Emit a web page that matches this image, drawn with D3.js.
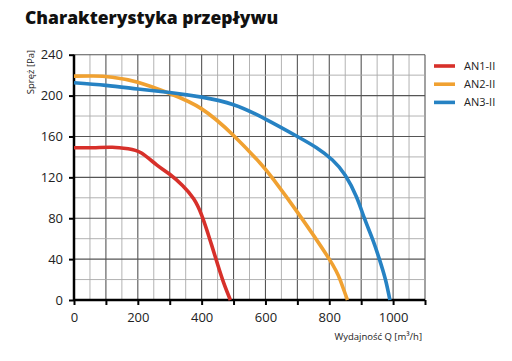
<!DOCTYPE html>
<html><head><meta charset="utf-8">
<script src="https://cdn.jsdelivr.net/npm/d3@7"></script>
<style>
body{margin:0;background:#fff;}
svg{display:block;font-family:"Open Sans",sans-serif;}
</style></head>
<body><svg id="c" width="512" height="361"></svg>
<script>
const title = "Charakterystyka przepływu";
const yTitle = "Spręż [Pa]";
const xTitle = "Wydajność Q [m³/h]";
const seriesNames = ["AN1-II", "AN2-II", "AN3-II"];
const seriesColors = ["#d7302a", "#f0a131", "#2682c3"];
const xTicks = [0, 200, 400, 600, 800, 1000];
const yTicks = [0, 40, 80, 120, 160, 200, 240];
const an1Q = [0, 60, 120, 170, 210, 260, 300, 340, 375, 400, 425, 450, 470, 490];
const an1P = [149, 149, 149.5, 148, 144, 132, 123, 112, 99, 83, 60, 35, 16, 0];
const an2Q = [0, 60, 120, 200, 300, 400, 500, 583, 625, 700, 800, 835, 857];
const an2P = [219, 219.2, 218, 213, 202, 187, 161, 134, 118, 86, 40, 19, 0];
const an3Q = [0, 100, 200, 300, 400, 500, 600, 700, 760, 810, 850, 885, 910, 935, 957, 976, 990];
const an3P = [212.5, 210, 206.5, 203, 198.5, 191, 177, 160, 149, 137, 122, 101, 80, 60, 40, 20, 0];
const seriesQ = [an1Q, an2Q, an3Q];
const seriesP = [an1P, an2P, an3P];

const svg = d3.select("#c");
const x = d3.scaleLinear().domain([0, 1100]).range([74, 425]);
const y = d3.scaleLinear().domain([0, 240]).range([300, 54.7]);

svg.append("text").attr("x", 25).attr("y", 24).attr("font-size", 17.5).attr("font-weight", 800)
  .attr("fill", "#111").text(title);

const g = svg.append("g");
// grid
d3.range(50, 1101, 50).forEach(v => {
  g.append("line").attr("x1", x(v)).attr("x2", x(v)).attr("y1", y(0)).attr("y2", y(240))
    .attr("stroke", v % 100 === 0 ? "#555" : "#aaa").attr("stroke-width", v % 100 === 0 ? 1.1 : 0.9);
});
d3.range(20, 241, 20).forEach(v => {
  g.append("line").attr("x1", x(0)).attr("x2", x(1100)).attr("y1", y(v)).attr("y2", y(v))
    .attr("stroke", v % 40 === 0 ? "#555" : "#aaa").attr("stroke-width", v % 40 === 0 ? 1.1 : 0.9);
});

// axes
const xAxis = d3.axisBottom(x).tickValues(d3.range(0, 1101, 100)).tickSize(5)
  .tickFormat(d => xTicks.includes(d) ? d : "");
const ax = svg.append("g").attr("transform", `translate(0,${y(0)})`).call(xAxis);
ax.select(".domain").attr("stroke", "#000").attr("stroke-width", 2.5).attr("d", `M${x(0)},0H${x(1100)}`);
ax.selectAll(".tick line").attr("stroke", "#000").attr("stroke-width", 2);
ax.selectAll(".tick text").attr("font-size", 13).attr("font-family", "Open Sans").attr("fill", "#222").attr("dy", "1.05em");

const yAxis = d3.axisLeft(y).tickValues(yTicks).tickSize(5);
const ay = svg.append("g").attr("transform", `translate(${x(0)},0)`).call(yAxis);
ay.select(".domain").attr("stroke", "#000").attr("stroke-width", 2.5).attr("d", `M0,${y(0)}V${y(240)}`);
ay.selectAll(".tick line").attr("stroke", "#000").attr("stroke-width", 2);
ay.selectAll(".tick text").attr("font-size", 13).attr("font-family", "Open Sans").attr("fill", "#222").attr("x", -11);

// titles
svg.append("text").attr("transform", `translate(34,72) rotate(-90)`).attr("text-anchor", "middle")
  .attr("font-size", 9.5).attr("fill", "#222").text(yTitle);
svg.append("text").attr("x", 422).attr("y", 340).attr("text-anchor", "end")
  .attr("font-size", 9.5).attr("fill", "#222").text(xTitle);

// curves
const line = d3.line().x(d => x(d[0])).y(d => y(d[1])).curve(d3.curveNatural);
seriesNames.forEach((n, i) => {
  const pts = seriesQ[i].map((q, j) => [q, seriesP[i][j]]);
  svg.append("path").attr("d", line(pts)).attr("fill", "none").attr("stroke", seriesColors[i])
    .attr("stroke-width", 3.6).attr("stroke-linecap", "butt");
});

// legend
seriesNames.forEach((n, i) => {
  const ly = 66 + i * 18.2;
  svg.append("line").attr("x1", 434).attr("x2", 455).attr("y1", ly).attr("y2", ly)
    .attr("stroke", seriesColors[i]).attr("stroke-width", 3.6);
  svg.append("text").attr("x", 464).attr("y", ly + 4).attr("font-size", 11).attr("fill", "#222").text(n);
});
</script></body></html>
